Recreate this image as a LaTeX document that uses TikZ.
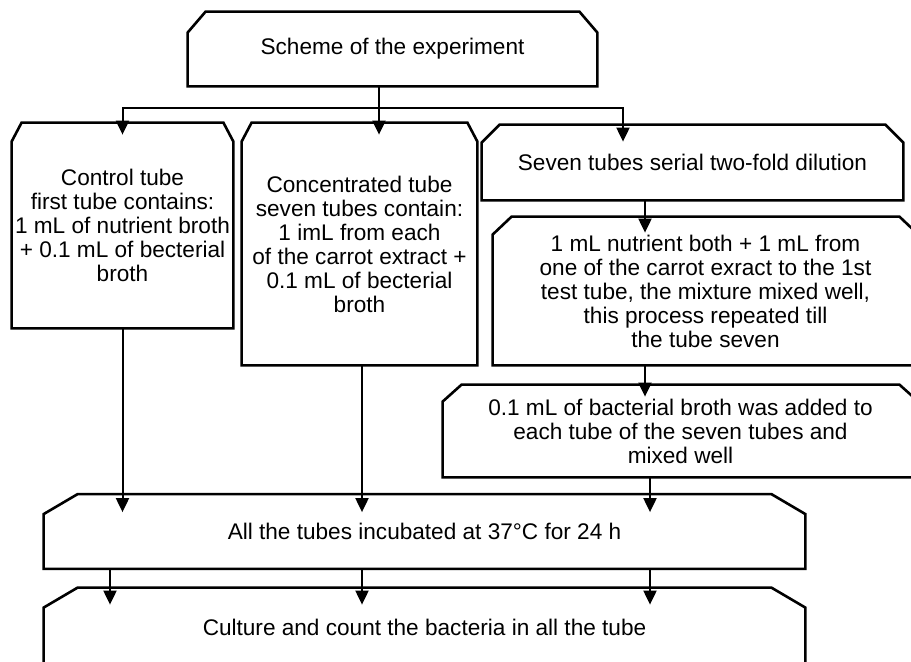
\documentclass[tikz,border=0pt]{standalone}
\usepackage{fontspec}
\setmainfont{Liberation Sans}
\usetikzlibrary{arrows.meta,positioning,calc}
\definecolor{inkline}{HTML}{000000}

\begin{document}
\begin{tikzpicture}[x=0.5pt,y=-0.5pt,font=\fontsize{11.3}{12}\selectfont,
  stage/.style={inner sep=0pt,align=center},
  boxline/.style={draw=inkline,line width=1.3pt,line join=miter},
  flow/.style={draw=inkline,line width=1pt,-{Triangle[length=7pt,width=6.5pt]}},
  link/.style={draw=inkline,line width=1pt}]
\useasboundingbox (0,0) rectangle (911,661);
\node[stage,minimum width=204.5pt,minimum height=37pt] (title) at (392.5,49) {Scheme of the experiment};
\node[stage,minimum width=110.5pt,minimum height=102.5pt] (ctrl) at (122.5,225.5)
 {Control tube\\first tube contains:\\1 mL of nutrient broth\\+ 0.1 mL of becterial\\broth};
\node[stage,minimum width=117.5pt,minimum height=121pt] (conc) at (359.5,244)
 {Concentrated tube\\seven tubes contain:\\1 imL from each\\of the carrot extract +\\0.1 mL of becterial\\broth};
\node[stage,minimum width=210.5pt,minimum height=37.5pt] (serial) at (692.5,162.5)
 {Seven tubes serial two-fold dilution};
\node[stage,minimum width=212.5pt,minimum height=74pt] (mix) at (705.5,291)
 {1 mL nutrient both + 1 mL from\\one of the carrot exract to the 1st\\test tube, the mixture mixed well,\\this process repeated till\\the tube seven};
\node[stage,minimum width=237.5pt,minimum height=46pt] (bact) at (680.5,431)
 {0.1 mL of bacterial broth was added to\\each tube of the seven tubes and\\mixed well};
\node[stage,minimum width=380.5pt,minimum height=37pt] (incub) at (424.5,531.5)
 {All the tubes incubated at 37°C for 24 h};
\node[stage,minimum width=380.5pt,minimum height=39pt] (count) at (424.5,627)
 {Culture and count the bacteria in all the tube};
\foreach \n/\cx/\cy in {title/9/10.5,ctrl/5/9.5,conc/5/9.5,serial/9/9,
  mix/9.5/9,bact/9.5/8.5,incub/17/10,count/17/10}
 \draw[boxline] (\n.south west) -- ([yshift=-\cy pt]\n.north west)
  -- ([xshift=\cx pt]\n.north west) -- ([xshift=-\cx pt]\n.north east)
  -- ([yshift=-\cy pt]\n.north east) -- (\n.south east) -- cycle;
\coordinate (xb) at (110,0);
\coordinate (xm) at (362,0);
\coordinate (xt) at (379,0);
\coordinate (xs) at (623,0);
\coordinate (xr) at (645,0);
\coordinate (xq) at (650,0);
\coordinate (split) at (379,108);
\draw[link] (title.south -| xt) -- (split);
\draw[flow] (split) -| ([yshift=-6pt]ctrl.north);
\draw[flow] (split) -- ([yshift=-6pt]conc.north -| split);
\draw[flow] (split) -| ([yshift=-8.5pt]serial.north -| xs);
\draw[flow] (serial.south -| xr) -- ([yshift=-8pt]mix.north -| xr);
\draw[flow] (mix.south -| xr) -- ([yshift=-6pt]bact.north -| xr);
\draw[flow] (ctrl.south) -- ([yshift=-9pt]incub.north -| ctrl.south);
\draw[flow] (conc.south -| xm) -- ([yshift=-9pt]incub.north -| xm);
\draw[flow] (bact.south -| xq) -- ([yshift=-9pt]incub.north -| xq);
\foreach \c in {xb,xm,xq}
 \draw[flow] (incub.south -| \c) -- ([yshift=-8.5pt]count.north -| \c);
\end{tikzpicture}
\end{document}
